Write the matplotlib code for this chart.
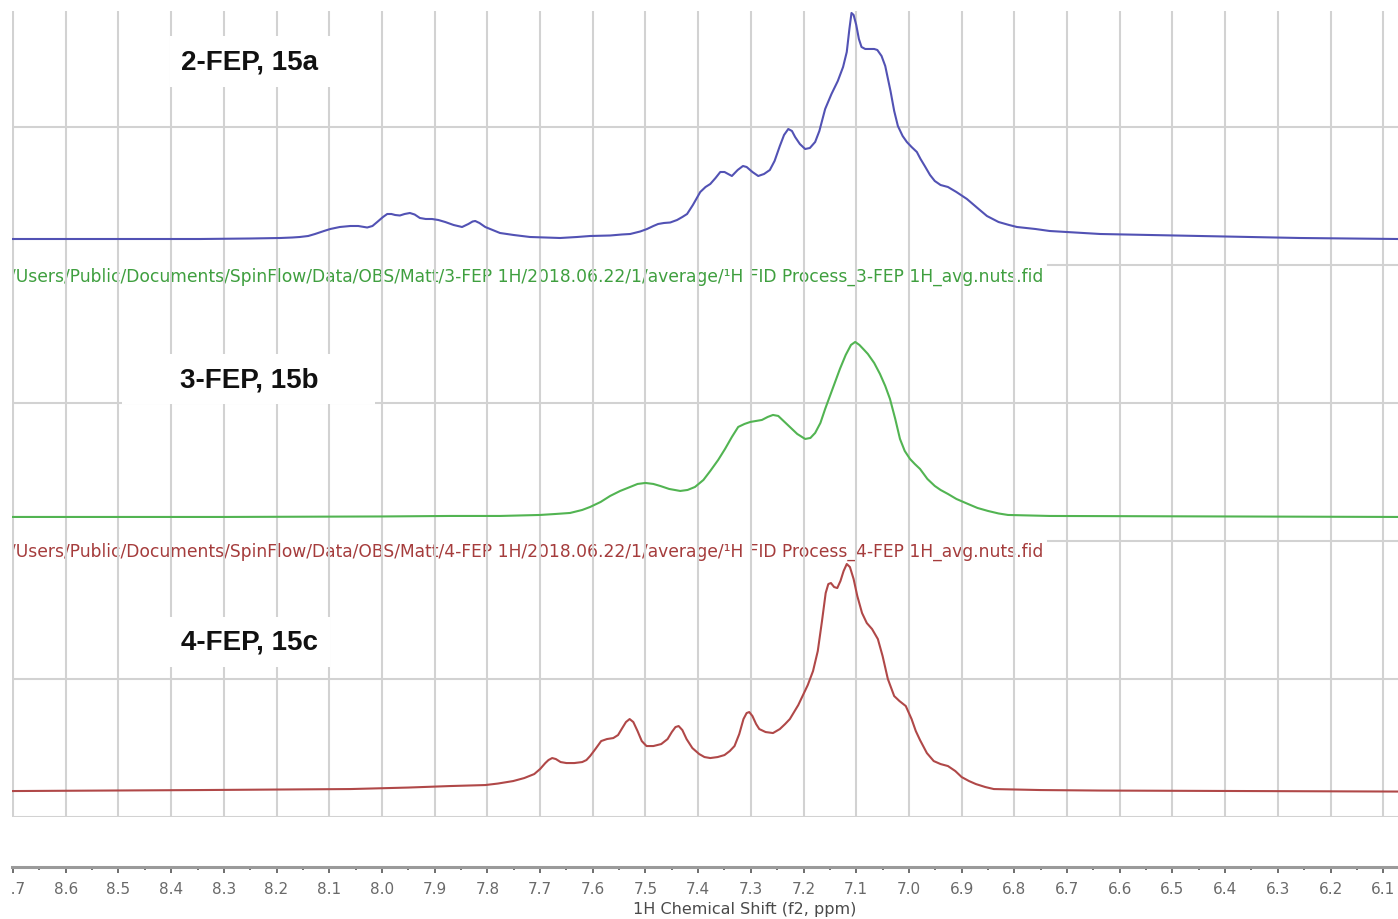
import matplotlib
matplotlib.use("Agg")
import matplotlib.pyplot as plt
from matplotlib.ticker import MultipleLocator, FormatStrFormatter
from matplotlib.patches import Rectangle
from matplotlib.transforms import Bbox, TransformedBbox
import numpy as np

# ---- spectra: chemical shift (ppm) and intensity (arbitrary units) ----
ppm_2fep = [8.702, 8.535, 8.345, 8.250, 8.193, 8.170, 8.156, 8.140, 8.127, 8.110,
            8.098, 8.080, 8.060, 8.045, 8.028, 8.018, 8.009, 7.998, 7.990, 7.982,
            7.975, 7.966, 7.957, 7.947, 7.938, 7.928, 7.917, 7.905, 7.893, 7.880,
            7.864, 7.848, 7.836, 7.828, 7.823, 7.815, 7.804, 7.790, 7.776, 7.750,
            7.719, 7.690, 7.662, 7.630, 7.605, 7.567, 7.545, 7.529, 7.510, 7.497,
            7.485, 7.476, 7.465, 7.453, 7.440, 7.430, 7.421, 7.410, 7.396, 7.386,
            7.377, 7.367, 7.358, 7.350, 7.343, 7.336, 7.325, 7.315, 7.308, 7.297,
            7.286, 7.275, 7.264, 7.255, 7.245, 7.237, 7.229, 7.222, 7.216, 7.207,
            7.197, 7.188, 7.178, 7.170, 7.159, 7.147, 7.135, 7.125, 7.118, 7.113,
            7.109, 7.105, 7.100, 7.095, 7.090, 7.083, 7.075, 7.066, 7.060, 7.052,
            7.045, 7.035, 7.028, 7.021, 7.012, 7.004, 6.995, 6.985, 6.978, 6.970,
            6.960, 6.951, 6.940, 6.926, 6.910, 6.890, 6.870, 6.852, 6.830, 6.810,
            6.795, 6.760, 6.733, 6.637, 6.448, 6.258, 6.072]
int_2fep = [0, 0, 0, 0.5, 1, 1.5, 2, 3, 5, 8,
            10, 12, 13, 13, 11.5, 13, 17, 22, 25, 25,
            24, 23.5, 25, 26, 24.5, 21, 20, 20, 19, 17,
            14, 12, 15, 17.5, 18, 16, 12, 9, 6, 4,
            2, 1.5, 1, 2, 3, 3.5, 4.5, 5, 7.5, 10,
            13, 15, 16, 16.5, 19, 22, 25, 34, 47, 52,
            55, 61, 67, 67, 65, 63, 69, 73, 72, 67,
            63, 65, 69, 78, 93, 104, 110, 108, 102, 95,
            90, 91, 97, 108, 130, 145, 158, 172, 187, 210,
            226, 224, 214, 200, 192, 190, 190, 190, 189, 183,
            173, 148, 128, 113, 103, 97, 92, 87, 80, 73,
            64, 58, 54, 52, 47, 40, 31, 23, 17, 14,
            12, 10, 8, 5, 3, 1, 0]

ppm_3fep = [8.702, 8.300, 8.000, 7.871, 7.776, 7.700, 7.670, 7.643, 7.620, 7.605,
            7.585, 7.567, 7.548, 7.529, 7.515, 7.500, 7.485, 7.472, 7.455, 7.434,
            7.420, 7.406, 7.390, 7.377, 7.362, 7.349, 7.336, 7.324, 7.312, 7.301,
            7.290, 7.279, 7.268, 7.258, 7.248, 7.238, 7.226, 7.212, 7.197, 7.187,
            7.178, 7.168, 7.159, 7.145, 7.131, 7.120, 7.110, 7.102, 7.094, 7.085,
            7.078, 7.066, 7.055, 7.045, 7.036, 7.026, 7.017, 7.008, 6.998, 6.989,
            6.979, 6.965, 6.951, 6.940, 6.926, 6.910, 6.888, 6.870, 6.850, 6.830,
            6.812, 6.733, 6.400, 6.072]
int_3fep = [0, 0, 0.5, 1, 1, 2, 3, 4, 7, 10,
            15, 21, 26, 30, 33, 34, 33, 31, 28, 26,
            27, 30, 37, 46, 57, 68, 80, 90, 93, 95,
            96, 97, 100, 102, 101, 96, 90, 83, 78, 79,
            84, 94, 108, 128, 148, 162, 172, 175, 172, 167,
            163, 154, 143, 131, 118, 98, 78, 66, 58, 53,
            48, 38, 31, 27, 23, 18, 13, 9, 6, 3.5,
            2, 1, 0.5, 0]

ppm_4fep = [8.702, 8.345, 8.060, 7.950, 7.871, 7.804, 7.780, 7.751, 7.730, 7.711,
            7.700, 7.690, 7.684, 7.677, 7.670, 7.661, 7.650, 7.635, 7.620, 7.612,
            7.605, 7.595, 7.584, 7.573, 7.561, 7.552, 7.544, 7.537, 7.530, 7.523,
            7.515, 7.507, 7.498, 7.485, 7.470, 7.458, 7.450, 7.443, 7.437, 7.430,
            7.422, 7.411, 7.398, 7.388, 7.377, 7.363, 7.350, 7.340, 7.331, 7.322,
            7.314, 7.308, 7.303, 7.297, 7.290, 7.284, 7.272, 7.258, 7.245, 7.235,
            7.226, 7.210, 7.192, 7.182, 7.173, 7.165, 7.158, 7.153, 7.148, 7.142,
            7.136, 7.130, 7.124, 7.118, 7.112, 7.105, 7.098, 7.089, 7.080, 7.070,
            7.059, 7.050, 7.040, 7.028, 7.018, 7.006, 6.995, 6.987, 6.979, 6.966,
            6.953, 6.940, 6.926, 6.912, 6.900, 6.886, 6.873, 6.855, 6.839, 6.750,
            6.637, 6.072]
int_4fep = [0, 1, 2, 3.5, 5, 6, 7.5, 10, 13, 17,
            22, 28, 31, 33, 32, 29, 28, 28, 29, 31,
            35, 42, 50, 52, 53, 56, 63, 69, 72, 69,
            60, 50, 45, 45, 47, 52, 59, 64, 65, 61,
            52, 43, 37, 34, 33, 34, 36, 40, 45, 57,
            72, 78, 79, 75, 67, 62, 59, 58, 62, 67,
            72, 86, 106, 120, 140, 170, 198, 207, 208, 204,
            203, 210, 220, 227, 224, 212, 195, 178, 168, 162,
            152, 135, 112, 95, 90, 85, 72, 60, 51, 38,
            30, 27, 25, 20, 14, 10, 7, 4, 2, 1,
            0.5, -0.5]

labels = ["2-FEP, 15a", "3-FEP, 15b", "4-FEP, 15c"]
paths = [
    "/Users/Public/Documents/SpinFlow/Data/OBS/Matt/3-FEP 1H/2018.06.22/1/average/\u00b9H FID Process_3-FEP 1H_avg.nuts.fid",
    "/Users/Public/Documents/SpinFlow/Data/OBS/Matt/4-FEP 1H/2018.06.22/1/average/\u00b9H FID Process_4-FEP 1H_avg.nuts.fid",
]

colors = ["#5252b4", "#52b452", "#b04848"]
path_colors = ["#3f9f3f", "#a53c3c"]

# stacking: baseline of each trace (grid units) and intensity scale
offsets = [4.188, 2.174, 0.188]
scale = 1.0 / 138.0

fig = plt.figure(figsize=(13.98, 9.2), dpi=100)
W, H = 1398.0, 920.0
ax = fig.add_axes([12 / W, 1 - 818 / H, 1386 / W, 806 / H])
ax.set_xlim(8.702, 6.072)
ax.set_ylim(0, 5.84)

grid_col = "#d2d2d2"
for yv in range(0, 6):
    if yv in (2, 4):
        continue
    ax.axhline(yv, color=grid_col, lw=1.5, zorder=0.5)
# these two lines sit under the file-path captions
ax.axhline(4, xmin=(1048 - 12) / 1386, color=grid_col, lw=1.5, zorder=0.5)
ax.axhline(2, xmin=(1048 - 12) / 1386, color=grid_col, lw=1.5, zorder=0.5)

ax.xaxis.set_major_locator(MultipleLocator(0.1))
ax.xaxis.set_minor_locator(MultipleLocator(0.05))
ax.xaxis.set_major_formatter(FormatStrFormatter("%.1f"))
ax.set_axisbelow("line")
ax.grid(axis="x", which="major", color=grid_col, lw=1.5)
ax.yaxis.set_visible(False)
for s in ("top", "left", "right"):
    ax.spines[s].set_visible(False)
ax.spines["bottom"].set_position(("outward", 36))
ax.spines["bottom"].set_color("#9a9a9a")
ax.spines["bottom"].set_linewidth(2.2)
ax.tick_params(axis="x", which="major", direction="out", length=4, width=1.2,
               color="#555555", labelcolor="#6a6a6a", labelsize=11, pad=6)
ax.tick_params(axis="x", which="minor", direction="out", length=2, width=1.2,
               color="#555555")
ax.set_xlabel("1H Chemical Shift (f2, ppm)", fontsize=11.5, color="#4a4a4a")
ax.xaxis.set_label_coords((745 - 12) / 1386, (818 - 910) / 806)
ax.xaxis.label.set_va("center")

# the scale labels are cut at the left edge of the plot region
clip = TransformedBbox(Bbox.from_extents(12 / W, 0, 1, 1), fig.transFigure)
for t in ax.xaxis.get_major_ticks():
    t.label1.set_clip_box(clip)
    t.label1.set_clip_on(True)

series = [(ppm_2fep, int_2fep), (ppm_3fep, int_3fep), (ppm_4fep, int_4fep)]
for (x, y), off, c in zip(series, offsets, colors):
    ax.plot(x, off + np.asarray(y) * scale, color=c, lw=1.5, zorder=2,
            solid_joinstyle="round")

# file-path captions
for txt, yc, c in zip(paths, [277, 552], path_colors):
    ax.text(-0.0015, (818 - yc) / 806, txt, transform=ax.transAxes, color=c,
            fontsize=12.33, ha="left", va="center", clip_on=True, zorder=1,
            family="DejaVu Sans")

# sample labels on white boxes
boxes = [(170, 37, 332, 88), (122, 355, 375, 405), (168, 618, 330, 668)]
centers = [63, 381, 643]
for lab, (x0, y0, x1, y1), yc in zip(labels, boxes, centers):
    ax.add_patch(Rectangle(((x0 - 12) / 1386, (818 - y1) / 806),
                           (x1 - x0) / 1386, (y1 - y0) / 806,
                           transform=ax.transAxes, facecolor="white",
                           edgecolor="none", zorder=3))
    ax.text((249 - 12) / 1386, (818 - yc) / 806, lab, transform=ax.transAxes,
            fontsize=20, fontweight="bold", family="Liberation Sans",
            ha="center", va="center", color="#111111", zorder=4)

fig.savefig("out.png", dpi=100)
